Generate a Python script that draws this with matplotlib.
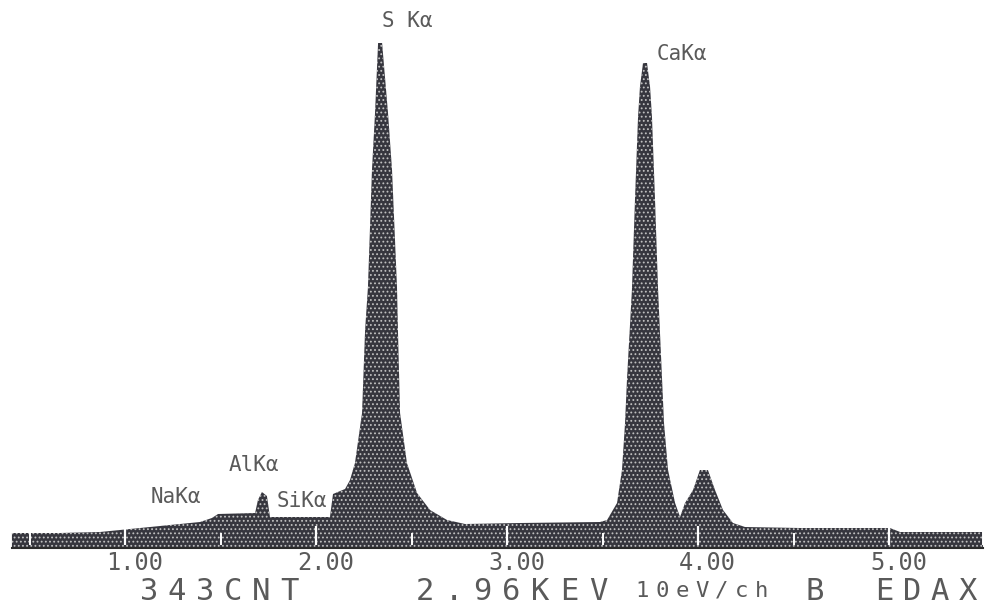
import matplotlib.pyplot as plt

# EDS spectrum, 10 eV/ch, read as (keV, counts) points along the envelope
energy = [0.408, 0.660, 0.869, 1.079, 1.236, 1.393, 1.455, 1.487, 1.681, 1.696,
          1.717, 1.743, 1.759, 2.073, 2.089, 2.152, 2.178, 2.204, 2.241, 2.257,
          2.272, 2.293, 2.309, 2.325, 2.346, 2.377, 2.398, 2.424, 2.429, 2.440,
          2.476, 2.529, 2.597, 2.686, 2.780, 3.068, 3.487, 3.524, 3.576, 3.602,
          3.618, 3.628, 3.654, 3.670, 3.686, 3.696, 3.712, 3.733, 3.749, 3.759,
          3.775, 3.791, 3.812, 3.822, 3.843, 3.880, 3.906, 3.932, 3.974, 4.010,
          4.052, 4.089, 4.131, 4.183, 4.246, 4.534, 5.005, 5.058, 5.492]
counts = [30, 30, 32, 40, 46, 52, 60, 68, 70, 96,
          112, 104, 62, 62, 108, 118, 136, 170, 270, 436,
          522, 756, 870, 1010, 1010, 870, 756, 522, 436, 270,
          170, 110, 76, 56, 48, 50, 52, 56, 90, 156,
          250, 336, 516, 696, 862, 922, 970, 970, 922, 862,
          696, 516, 336, 250, 156, 90, 62, 90, 116, 156,
          156, 116, 76, 50, 42, 40, 40, 32, 32]

major_ticks = [1.0, 2.0, 3.0, 4.0, 5.0]
minor_ticks = [0.5, 1.5, 2.5, 3.5, 4.5]
tick_labels = ["1.00", "2.00", "3.00", "4.00", "5.00"]

peak_names = ["NaK\u03b1", "AlK\u03b1", "SiK\u03b1", "S K\u03b1", "CaK\u03b1"]
peak_label_pos = [(176, 497), (254, 465), (302, 501), (407, 21), (682, 54)]

status_items = ["343CNT", "2.96KEV", "10eV/ch", "B", "EDAX"]
status_left = [135, 410, 632, 803, 870]
status_step = [28, 29, 20, 24, 28]
status_size = [22, 22, 16, 22, 22]

W, H = 993, 610
plt.rcParams['hatch.linewidth'] = 0.8
plt.rcParams['hatch.color'] = '#c0c0c0'

fig = plt.figure(figsize=(W / 100, H / 100), dpi=100)
ax = fig.add_axes([0, 0, 1, 1])
ax.set_xlim(0.3455, 5.5445)
ax.set_ylim(-124, 1096)
ax.axis('off')

ax.fill_between(energy, 0, counts, facecolor='#36363e', edgecolor='#c0c0c0',
                hatch='....', linewidth=0)
ax.plot([energy[0], energy[-1]], [0, 0], color='#2a2a2a', lw=1.5)

ax.vlines(major_ticks, 6, 44, colors='white', lw=1.6)
ax.vlines(minor_ticks, 6, 30, colors='white', lw=1.4)
ax.vlines([energy[-1]], 6, 32, colors='white', lw=1.4)

mono = 'DejaVu Sans Mono'
grey = '#5a5a5a'

for t, lab in zip(major_ticks, tick_labels):
    ax.text(t + 0.05, -30, lab, ha='center', va='center', fontsize=17,
            family=mono, color=grey)

for name, (px, py) in zip(peak_names, peak_label_pos):
    ax.text(px / W, 1 - py / H, name, transform=ax.transAxes, ha='center',
            va='center', fontsize=15, family=mono, color=grey)


def spaced_text(s, left, step, size, y=591):
    # lay each character on a fixed pitch, like the analyser's screen font
    for i, ch in enumerate(s):
        cx = left + step * (i + 0.5)
        ax.text(cx / W, 1 - y / H, ch, transform=ax.transAxes, ha='center',
                va='center', fontsize=size, family=mono, color=grey)


for s, left, step, size in zip(status_items, status_left, status_step, status_size):
    spaced_text(s, left, step, size)

fig.savefig('out.png', dpi=100, facecolor='white')
